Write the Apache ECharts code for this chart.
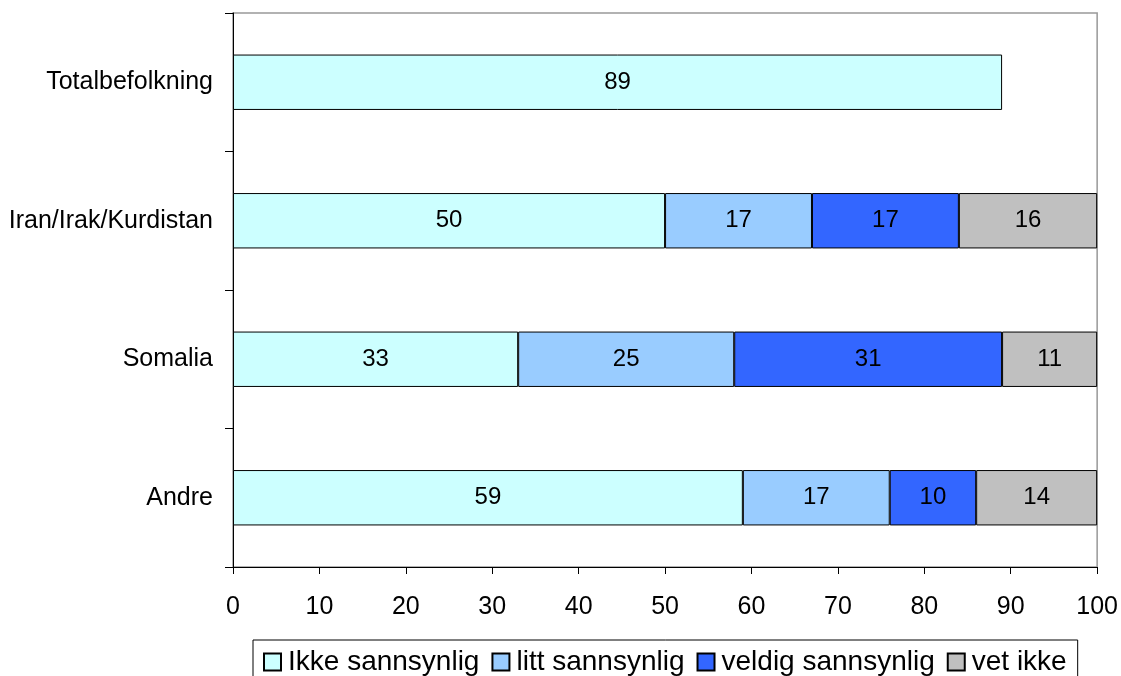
<!DOCTYPE html>
<html><head><meta charset="utf-8">
<script src="https://cdn.jsdelivr.net/npm/echarts@6/dist/echarts.min.js"></script>
<style>html,body{margin:0;padding:0;background:#fff}#c{width:1121px;height:676px}</style>
</head><body><div id="c"></div>
<script>
const categories = ['Totalbefolkning', 'Iran/Irak/Kurdistan', 'Somalia', 'Andre'];
const seriesNames = ['Ikke sannsynlig', 'litt sannsynlig', 'veldig sannsynlig', 'vet ikke'];
const ikkeSannsynlig = [89, 50, 33, 59];
const littSannsynlig = [null, 17, 25, 17];
const veldigSannsynlig = [null, 17, 31, 10];
const vetIkke = [null, 16, 11, 14];
const xTicks = [0, 10, 20, 30, 40, 50, 60, 70, 80, 90, 100];
const colors = ['#CCFFFF', '#99CCFF', '#3366FF', '#C0C0C0'];
const values = [ikkeSannsynlig, littSannsynlig, veldigSannsynlig, vetIkke];
const font = '"Liberation Sans", Arial, sans-serif';

const chart = echarts.init(document.getElementById('c'), null, {renderer: 'canvas'});
chart.setOption({
  animation: false,
  textStyle: {fontFamily: font},
  grid: {left: 233, right: 23, top: 13, bottom: 109, show: true, borderColor: '#999', borderWidth: 1.5, containLabel: false},
  xAxis: {
    type: 'value', min: xTicks[0], max: xTicks[xTicks.length - 1], interval: 10,
    splitLine: {show: false},
    axisLine: {show: true, lineStyle: {color: '#000', width: 1}},
    axisTick: {show: true, length: 7, lineStyle: {color: '#000'}},
    axisLabel: {color: '#000', fontSize: 25, fontFamily: font, margin: 28}
  },
  yAxis: {
    type: 'category', data: categories, inverse: true,
    axisLine: {show: true, lineStyle: {color: '#000', width: 1}},
    axisTick: {show: true, length: 8, alignWithLabel: false, lineStyle: {color: '#000'}},
    axisLabel: {color: '#000', fontSize: 25, fontFamily: font, margin: 20}
  },
  legend: {
    data: seriesNames,
    left: 253, top: 640,
    padding: [8, 11, 10, 10],
    borderColor: '#000', borderWidth: 1,
    itemWidth: 17, itemHeight: 17, itemGap: 12,
    textStyle: {color: '#000', fontSize: 28, fontFamily: font, padding: [0, 0, 0, 2]},
    icon: 'rect'
  },
  series: values.map((v, i) => ({
    name: seriesNames[i], type: 'bar', stack: 'total', data: v,
    barWidth: '40%',
    itemStyle: {color: colors[i], borderColor: '#000', borderWidth: 1},
    label: {show: true, position: 'inside', color: '#000', fontSize: 24, fontFamily: font,
      formatter: p => p.value == null ? '' : p.value}
  }))
});
</script></body></html>
